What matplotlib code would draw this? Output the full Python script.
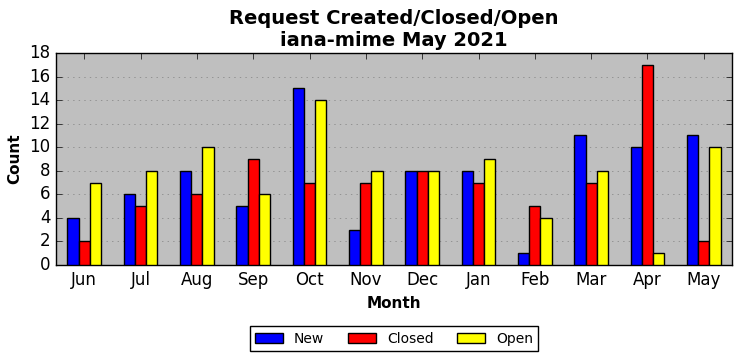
import matplotlib
matplotlib.use("Agg")
import matplotlib.pyplot as plt
import numpy as np

plt.style.use("classic")

months = ["Jun", "Jul", "Aug", "Sep", "Oct", "Nov", "Dec", "Jan", "Feb", "Mar", "Apr", "May"]
new = [4, 6, 8, 5, 15, 3, 8, 8, 1, 11, 10, 11]
closed = [2, 5, 6, 9, 7, 7, 8, 7, 5, 7, 17, 2]
open_ = [7, 8, 10, 6, 14, 8, 8, 9, 4, 8, 1, 10]

fig = plt.figure(figsize=(7.41, 3.61), dpi=100)
ax = fig.add_axes([56 / 741, 1 - 265 / 361, 676 / 741, 212 / 361])
ax.set_facecolor("#bfbfbf")

x = np.arange(len(months))
w = 0.2
ax.bar(x - w, new, w, align="center", color="blue", edgecolor="black", label="New", zorder=3)
ax.bar(x, closed, w, align="center", color="red", edgecolor="black", label="Closed", zorder=3)
ax.bar(x + w, open_, w, align="center", color="yellow", edgecolor="black", label="Open", zorder=3)

ax.set_xlim(-0.5, len(months) - 0.5)
ax.set_ylim(0, 18)
ax.set_yticks(range(0, 19, 2))
ax.set_xticks(x)
ax.set_xticklabels(months)
ax.yaxis.grid(True, linestyle=":", color="gray", zorder=0)
ax.set_axisbelow(True)

ax.set_xlabel("Month", fontweight="bold", fontsize=11)
ax.set_ylabel("Count", fontweight="bold", fontsize=11)
ax.set_title("Request Created/Closed/Open\niana-mime May 2021", fontweight="bold", fontsize=14)

ax.legend(loc="upper center", bbox_to_anchor=(0.5, -0.255), ncol=3, fontsize=10,
          columnspacing=1.7)

fig.savefig("out.png", dpi=100)
